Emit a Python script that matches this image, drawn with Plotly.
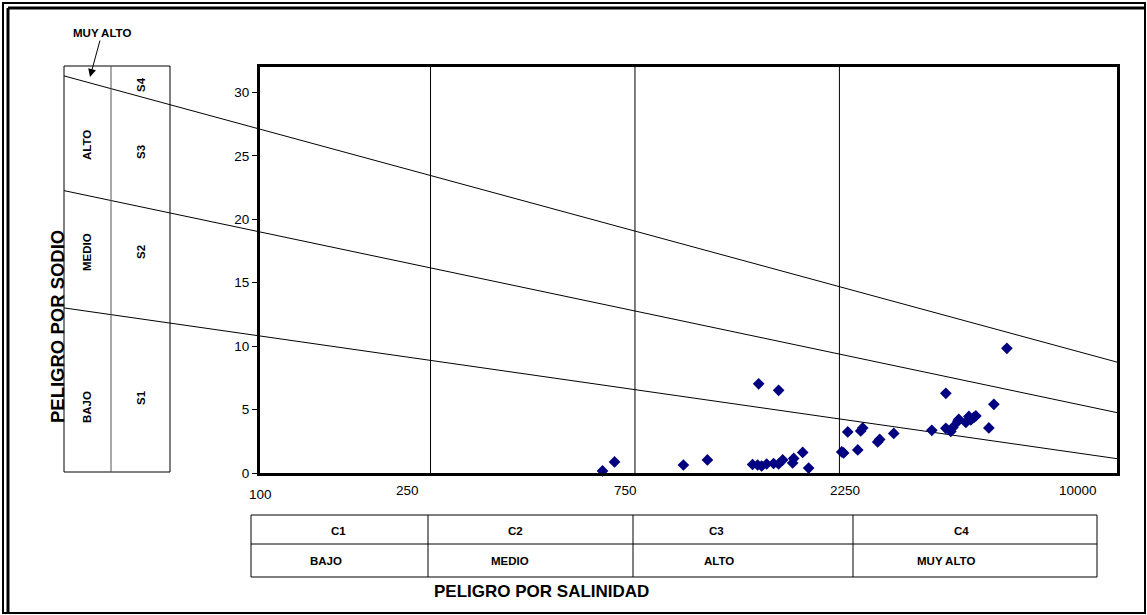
import math
import plotly.graph_objects as go

# ---------------- data ----------------
# Conductivity (uS/cm) and SAR of the water samples
ec = [630, 672, 973, 1107, 1411, 1450, 1481, 1522, 1580, 1623, 1659, 1750, 1760, 1847,
      1907, 1458, 1623, 2278, 2302, 2353, 2483, 2523, 2550, 2764, 2794, 3013, 3697,
      3986, 3986, 4094, 4139, 4252, 4274, 4439, 4511, 4560, 4634, 4684, 5023, 5160, 5534]
sar = [0.16, 0.87, 0.63, 1.03, 0.67, 0.63, 0.55, 0.71, 0.75, 0.71, 1.03, 0.79, 1.15, 1.62,
       0.39, 7.03, 6.52, 1.66, 1.58, 3.24, 1.82, 3.32, 3.55, 2.45, 2.65, 3.12, 3.36,
       6.28, 3.52, 3.28, 3.59, 4.07, 4.23, 3.99, 4.46, 4.19, 4.38, 4.50, 3.55, 5.41, 9.83]

# salinity class limits (vertical lines)
salinity_bounds = [250, 750, 2250]

# sodium hazard boundary lines: SAR at EC = 100 and EC = 10000
boundary_ec = [100, 10000]
sar_s1_s2 = [10.8, 1.13]
sar_s2_s3 = [19.0, 4.76]
sar_s3_s4 = [27.1, 8.74]

x_tick_labels = ["100", "250", "750", "2250", "10000"]
y_ticks = [0, 5, 10, 15, 20, 25, 30]

sodium_classes = ["S1", "S2", "S3", "S4"]
sodium_levels = ["BAJO", "MEDIO", "ALTO"]
salinity_classes = ["C1", "C2", "C3", "C4"]
salinity_levels = ["BAJO", "MEDIO", "ALTO", "MUY ALTO"]

# ---------------- layout helpers ----------------
W, H = 1147, 615
L, R, T, B = 260, 1117, 67, 473
X_RANGE = [2, 4]
Y_MAX = 32
FONT = "Arial, Liberation Sans, sans-serif"


def fx(px):
    return (px - L) / (R - L)


def fy(py):
    return (B - py) / (B - T)


fig = go.Figure()

# boundary lines inside the plot
for s in (sar_s1_s2, sar_s2_s3, sar_s3_s4):
    fig.add_trace(go.Scatter(x=boundary_ec, y=s, mode="lines",
                             line=dict(color="black", width=1), hoverinfo="skip"))

# samples
fig.add_trace(go.Scatter(x=ec, y=sar, mode="markers", cliponaxis=False,
                         marker=dict(symbol="diamond", size=9, color="#000080",
                                     line=dict(width=0))))

shapes = []
# vertical salinity limits
for b in salinity_bounds:
    shapes.append(dict(type="line", xref="x", yref="paper", x0=b, x1=b, y0=0, y1=1,
                       line=dict(color="black", width=1)))

# extension of boundary lines into the left box
left_px = 64
left_log = X_RANGE[0] + (left_px - L) / (R - L) * (X_RANGE[1] - X_RANGE[0])
for s in (sar_s1_s2, sar_s2_s3, sar_s3_s4):
    l0, l1 = math.log10(boundary_ec[0]), math.log10(boundary_ec[1])
    slope = (s[1] - s[0]) / (l1 - l0)
    s_left = s[0] + slope * (left_log - l0)
    shapes.append(dict(type="line", xref="paper", yref="paper",
                       x0=fx(left_px), y0=s_left / Y_MAX, x1=0, y1=s[0] / Y_MAX,
                       line=dict(color="black", width=1)))

# left sodium box
shapes.append(dict(type="rect", xref="paper", yref="paper", x0=fx(64), x1=fx(170),
                   y0=fy(472), y1=fy(66), line=dict(color="black", width=1)))
shapes.append(dict(type="line", xref="paper", yref="paper", x0=fx(111), x1=fx(111),
                   y0=fy(472), y1=fy(66), line=dict(color="#555555", width=1)))

# bottom salinity table
shapes.append(dict(type="rect", xref="paper", yref="paper", x0=fx(251), x1=fx(1097),
                   y0=fy(577), y1=fy(515), line=dict(color="black", width=1)))
shapes.append(dict(type="line", xref="paper", yref="paper", x0=fx(251), x1=fx(1097),
                   y0=fy(544), y1=fy(544), line=dict(color="black", width=1)))
for px in (428, 633, 853):
    shapes.append(dict(type="line", xref="paper", yref="paper", x0=fx(px), x1=fx(px),
                       y0=fy(577), y1=fy(515), line=dict(color="black", width=1)))

# outer frame (double on left/top)
shapes.append(dict(type="rect", xref="paper", yref="paper", x0=fx(3), x1=fx(1145),
                   y0=fy(613), y1=fy(3), line=dict(color="black", width=2)))
shapes.append(dict(type="line", xref="paper", yref="paper", x0=fx(8), x1=fx(8),
                   y0=fy(613), y1=fy(8), line=dict(color="black", width=3)))
shapes.append(dict(type="line", xref="paper", yref="paper", x0=fx(8), x1=fx(1145),
                   y0=fy(8), y1=fy(8), line=dict(color="black", width=3)))

ann = []


def text(px, py, s, size, bold=True, angle=0):
    ann.append(dict(xref="paper", yref="paper", x=fx(px), y=fy(py), text=(f"<b>{s}</b>" if bold else s),
                    showarrow=False, textangle=angle, xanchor="center", yanchor="middle",
                    font=dict(family=FONT, size=size, color="black")))


# x tick labels
for lab, px, py in zip(x_tick_labels, [260, 407, 625, 845, 1078], [494, 490, 490, 490, 490]):
    text(px, py, lab, 13.5, bold=False)

# sodium box labels
for lab, py in zip(sodium_levels, [407, 252, 145]):
    text(87, py, lab, 11.5, angle=-90)
for lab, py in zip(sodium_classes, [398, 252, 152, 85]):
    text(141, py, lab, 11.5, angle=-90)

# salinity table labels
for lab, px in zip(salinity_classes, [338, 515, 716, 961]):
    text(px, 531, lab, 11.5)
for lab, px in zip(salinity_levels, [326, 510, 719, 946]):
    text(px, 561, lab, 11.5)

text(541, 591, "PELIGRO POR SALINIDAD", 17)
text(57, 327, "PELIGRO POR SODIO", 18.5, angle=-90)

# MUY ALTO with arrow
ann.append(dict(xref="paper", yref="paper", x=fx(90), y=fy(77), text="<b>MUY ALTO</b>",
                showarrow=True, ax=12, ay=-44, arrowhead=2, arrowsize=1.6, arrowwidth=1,
                arrowcolor="black", font=dict(family=FONT, size=11.5, color="black")))

fig.update_layout(
    width=W, height=H,
    margin=dict(l=L, r=W - R, t=T, b=H - B, pad=0),
    paper_bgcolor="white", plot_bgcolor="white",
    showlegend=False,
    shapes=shapes, annotations=ann,
    font=dict(family=FONT, color="black"),
    xaxis=dict(type="log", range=X_RANGE, showgrid=False, zeroline=False,
               showline=True, linewidth=3, linecolor="black", mirror=True,
               showticklabels=False, ticks=""),
    yaxis=dict(range=[0, Y_MAX], tickvals=y_ticks, showgrid=False, zeroline=False,
               showline=True, linewidth=3, linecolor="black", mirror=True,
               ticks="outside", ticklen=5, tickwidth=1, tickcolor="black",
               tickfont=dict(family=FONT, size=13.5, color="black")),
)

fig.write_html("out.html", config={"displayModeBar": False},
               post_script="document.body.style.margin='0px';document.body.style.overflow='hidden';")
